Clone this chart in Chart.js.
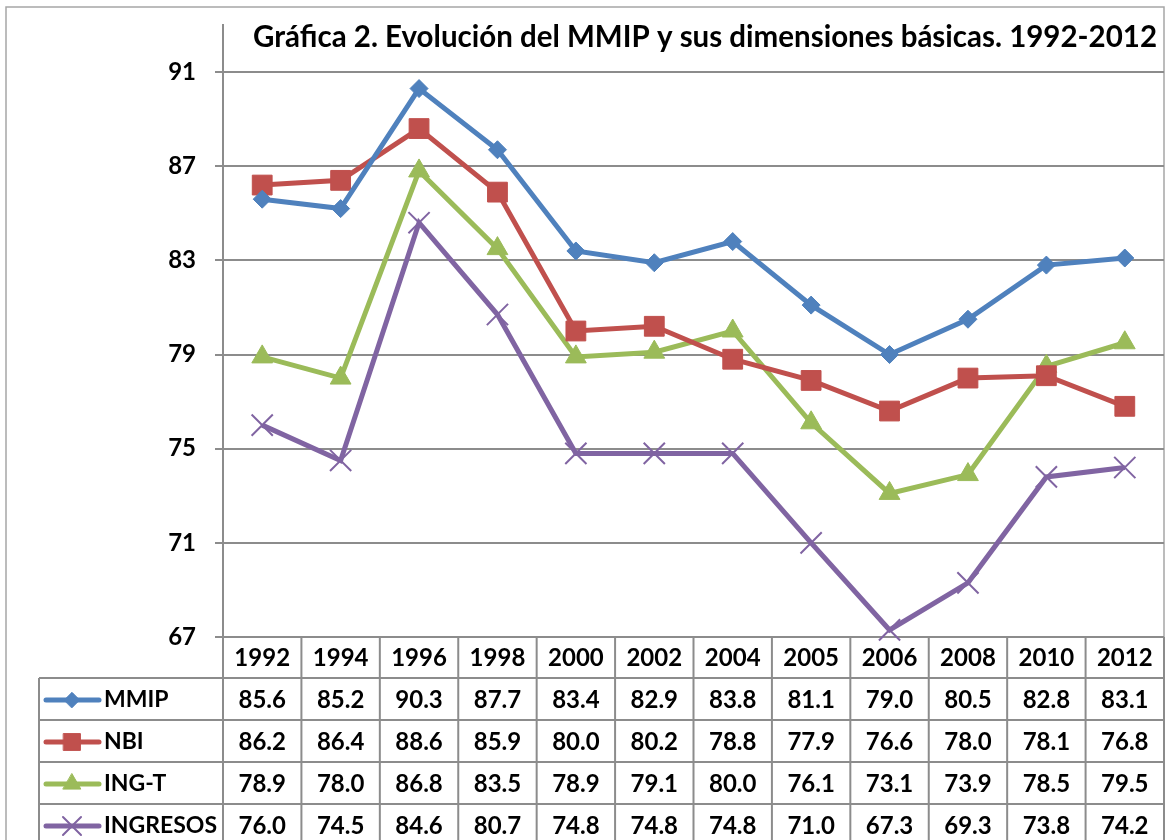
<!DOCTYPE html>
<html>
<head>
<meta charset="utf-8">
<script src="https://cdn.jsdelivr.net/npm/chart.js@4.4.1/dist/chart.umd.min.js"></script>
<style>
  html, body { margin: 0; padding: 0; background: #fff; }
  canvas { display: block; }
</style>
</head>
<body>
<canvas id="grafica" width="1166" height="840"></canvas>
<script>
// datos de la gráfica
const years = ['1992', '1994', '1996', '1998', '2000', '2002', '2004', '2005', '2006', '2008', '2010', '2012'];
const mmip = [85.6, 85.2, 90.3, 87.7, 83.4, 82.9, 83.8, 81.1, 79.0, 80.5, 82.8, 83.1];
const nbi = [86.2, 86.4, 88.6, 85.9, 80.0, 80.2, 78.8, 77.9, 76.6, 78.0, 78.1, 76.8];
const ingT = [78.9, 78.0, 86.8, 83.5, 78.9, 79.1, 80.0, 76.1, 73.1, 73.9, 78.5, 79.5];
const ingresos = [76.0, 74.5, 84.6, 80.7, 74.8, 74.8, 74.8, 71.0, 67.3, 69.3, 73.8, 74.2];
const yTicks = [67, 71, 75, 79, 83, 87, 91];
const titulo = 'Gráfica 2. Evolución del MMIP y sus dimensiones básicas. 1992-2012';

const FONT = 'Lato, "Open Sans", sans-serif';
const GRID = '#8c8c8c';

const series = [
  { label: 'MMIP', data: mmip, color: '#4F81BD', style: 'rectRot', radius: 9 },
  { label: 'NBI', data: nbi, color: '#C0504D', style: 'rect', radius: 14 },
  { label: 'ING-T', data: ingT, color: '#9BBB59', style: 'triangle', radius: 12 },
  { label: 'INGRESOS', data: ingresos, color: '#8064A2', style: 'crossRot', radius: 15 }
];

// borde exterior, título y tabla de datos
const tablaPlugin = {
  id: 'tabla',
  beforeDraw(chart) {
    const ctx = chart.ctx;
    ctx.save();
    ctx.fillStyle = '#fff';
    ctx.fillRect(0, 0, chart.width, chart.height);
    ctx.strokeStyle = '#a6a6a6';
    ctx.lineWidth = 1.5;
    ctx.strokeRect(6, 7, 1158, 860);
    ctx.restore();
  },
  afterDraw(chart) {
    const ctx = chart.ctx;
    const x = chart.scales.x;
    const area = chart.chartArea;
    const colW = (area.right - area.left) / years.length;
    const top = area.bottom;
    const rowH = 42;
    const headH = 41;
    const labelLeft = 39;
    const bottom = top + headH + rowH * series.length;

    ctx.save();
    // título
    ctx.fillStyle = '#000';
    ctx.font = 'bold 29.5px ' + FONT;
    ctx.textAlign = 'center';
    ctx.textBaseline = 'middle';
    ctx.fillText(titulo, 705, 37);

    // líneas de la tabla
    ctx.strokeStyle = GRID;
    ctx.lineWidth = 2;
    ctx.beginPath();
    // eje vertical prolongado
    ctx.moveTo(area.left, area.top);
    ctx.lineTo(area.left, bottom);
    for (let i = 1; i <= years.length; i++) {
      const cx = area.left + colW * i;
      ctx.moveTo(cx, top);
      ctx.lineTo(cx, bottom);
    }
    ctx.moveTo(labelLeft, top + headH);
    ctx.lineTo(labelLeft, bottom);
    for (let r = 0; r < series.length; r++) {
      const y = top + headH + rowH * r;
      ctx.moveTo(labelLeft, y);
      ctx.lineTo(area.right, y);
    }
    ctx.stroke();

    // años
    ctx.font = 'bold 24px ' + FONT;
    ctx.textAlign = 'center';
    years.forEach((yr, i) => {
      ctx.fillText(yr, x.getPixelForValue(i), top + headH / 2 + 1);
    });

    // filas
    series.forEach((s, r) => {
      const cy = top + headH + rowH * r + rowH / 2 + 1;
      // clave
      ctx.strokeStyle = s.color;
      ctx.lineWidth = 5;
      ctx.lineCap = 'round';
      ctx.beginPath();
      ctx.moveTo(46, cy);
      ctx.lineTo(99, cy);
      ctx.stroke();
      ctx.fillStyle = s.color;
      ctx.strokeStyle = s.color;
      ctx.lineWidth = s.style === 'crossRot' ? 2 : 1;
      Chart.helpers.drawPoint(ctx, { pointStyle: s.style, radius: s.radius * 0.85, rotation: 0, borderWidth: ctx.lineWidth }, 72, cy);
      ctx.fillStyle = '#000';
      ctx.textAlign = 'left';
      ctx.font = 'bold 23px ' + FONT;
      ctx.fillText(s.label, 104, cy);
      ctx.textAlign = 'center';
      ctx.font = 'bold 24px ' + FONT;
      s.data.forEach((v, i) => {
        ctx.fillText(v.toFixed(1), x.getPixelForValue(i), cy);
      });
    });
    ctx.restore();
  }
};

new Chart(document.getElementById('grafica'), {
  type: 'line',
  data: {
    labels: years,
    datasets: series.map(s => ({
      label: s.label,
      data: s.data,
      borderColor: s.color,
      backgroundColor: s.color,
      borderWidth: 5,
      pointStyle: s.style,
      pointRadius: s.radius,
      pointBorderWidth: s.style === 'crossRot' ? 2 : 1,
      pointBorderColor: s.color,
      pointBackgroundColor: s.color,
      tension: 0,
      clip: false
    }))
  },
  options: {
    responsive: false,
    animation: false,
    layout: { autoPadding: false, padding: { left: 0, top: 25, right: 2, bottom: 203 } },
    plugins: {
      legend: { display: false },
      tooltip: { enabled: false },
      title: { display: false }
    },
    scales: {
      x: {
        type: 'category',
        display: false,
        offset: true
      },
      y: {
        min: 67,
        max: 93,
        afterBuildTicks(scale) {
          scale.ticks = yTicks.map(v => ({ value: v }));
        },
        afterFit(scale) {
          scale.width = 223;
          scale.paddingTop = 0;
          scale.paddingBottom = 0;
        },
        grid: { color: GRID, lineWidth: 2, tickLength: 8 },
        border: { display: true, color: GRID, width: 2 },
        ticks: {
          color: '#000',
          padding: 19,
          font: { family: FONT, size: 24, weight: 'bold' }
        }
      }
    }
  },
  plugins: [tablaPlugin]
});
</script>
</body>
</html>
